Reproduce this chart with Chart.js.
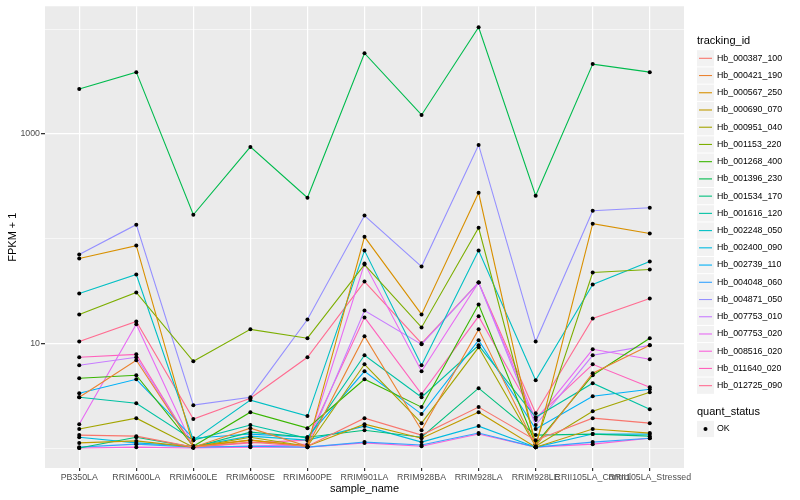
<!DOCTYPE html>
<html>
<head>
<meta charset="utf-8">
<script src="https://cdn.jsdelivr.net/npm/chart.js@4"></script>
<style>
    html, body { margin: 0; padding: 0; background: #ffffff; }
    #wrap { width: 800px; height: 500px; }
</style>
</head>
<body>
<div id="wrap"><canvas id="fpkmChart" width="800" height="500"></canvas></div>
<script>
const sampleNames = ["PB350LA", "RRIM600LA", "RRIM600LE", "RRIM600SE", "RRIM600PE", "RRIM901LA",
    "RRIM928BA", "RRIM928LA", "RRIM928LE", "RRII105LA_Control", "RRII105LA_Stressed"];

const trackingIds = ["Hb_000387_100", "Hb_000421_190", "Hb_000567_250", "Hb_000690_070", "Hb_000951_040",
    "Hb_001153_220", "Hb_001268_400", "Hb_001396_230", "Hb_001534_170", "Hb_001616_120",
    "Hb_002248_050", "Hb_002400_090", "Hb_002739_110", "Hb_004048_060", "Hb_004871_050",
    "Hb_007753_010", "Hb_007753_020", "Hb_008516_020", "Hb_011640_020", "Hb_012725_090"];

// FPKM + 1, one array per tracking_id, in sampleNames order
const hb_000387_100 = [1.33, 1.30, 1.02, 1.14, 1.04, 1.93, 1.33, 2.46, 1.19, 1.93, 1.73];
const hb_000421_190 = [3.06, 6.89, 1.02, 1.55, 1.04, 11.7, 1.48, 13.6, 1.04, 5.18, 9.57];
const hb_000567_250 = [64.5, 85.8, 1.04, 1.19, 1.04, 104, 18.9, 274, 1.02, 139, 112];
const hb_000690_070 = [1.12, 1.17, 1.02, 1.19, 1.04, 1.69, 1.24, 2.20, 1.02, 1.52, 1.39];
const hb_000951_040 = [1.52, 1.93, 1.02, 1.27, 1.04, 6.31, 1.73, 9.16, 1.04, 2.25, 3.41];
const hb_001153_220 = [18.9, 30.6, 6.74, 13.6, 11.2, 56.5, 14.2, 127, 1.09, 47.5, 50.7];
const hb_001268_400 = [4.64, 4.96, 1.04, 2.20, 1.55, 4.54, 2.46, 23.5, 1.09, 4.96, 11.2];
const hb_001396_230 = [2683, 3892, 169, 752, 246, 5905, 1517, 10450, 257, 4642, 3892];
const hb_001534_170 = [1.00, 1.27, 1.02, 1.42, 1.27, 1.48, 1.27, 3.73, 1.33, 1.36, 1.30];
const hb_001616_120 = [3.06, 2.68, 1.19, 1.66, 1.24, 7.69, 3.06, 9.57, 1.97, 4.16, 2.35];
const hb_002248_050 = [29.9, 45.4, 1.19, 2.87, 2.02, 76.9, 6.17, 76.9, 4.44, 36.5, 60.4];
const hb_002400_090 = [1.27, 1.12, 1.04, 1.30, 1.19, 1.62, 1.14, 1.62, 1.02, 1.36, 1.36];
const hb_002739_110 = [3.34, 4.54, 1.24, 1.36, 1.27, 5.41, 2.11, 10.7, 1.52, 3.13, 3.65];
const hb_004048_060 = [1.02, 1.09, 1.02, 1.04, 1.02, 1.14, 1.07, 1.39, 1.02, 1.14, 1.24];
const hb_004871_050 = [70.4, 136, 2.57, 3.06, 16.9, 166, 54.1, 785, 10.4, 185, 197];
const hb_007753_010 = [6.17, 7.36, 1.02, 1.04, 1.07, 20.6, 9.78, 38.1, 1.66, 7.69, 9.57];
const hb_007753_020 = [1.69, 15.2, 1.02, 1.04, 1.09, 57.8, 5.41, 38.1, 1.85, 8.77, 7.04];
const hb_008516_020 = [1.00, 1.02, 1.00, 1.02, 1.02, 1.12, 1.04, 1.36, 1.02, 1.09, 1.24];
const hb_011640_020 = [7.36, 7.85, 1.02, 1.12, 1.19, 17.7, 3.27, 18.1, 1.93, 6.31, 3.81];
const hb_012725_090 = [10.4, 16.2, 1.89, 2.99, 7.36, 38.9, 10.0, 38.1, 2.15, 17.3, 26.8];

const seriesValues = [hb_000387_100, hb_000421_190, hb_000567_250, hb_000690_070, hb_000951_040,
    hb_001153_220, hb_001268_400, hb_001396_230, hb_001534_170, hb_001616_120,
    hb_002248_050, hb_002400_090, hb_002739_110, hb_004048_060, hb_004871_050,
    hb_007753_010, hb_007753_020, hb_008516_020, hb_011640_020, hb_012725_090];

const yBreaks = [1, 10, 100, 1000, 10000];
const yLabelled = [10, 1000];
const quantStatus = ["OK"];

// ggplot default hue palette, 20 levels
const hueColors = ["#F8766D", "#EA8331", "#D89000", "#C09B00", "#A3A500", "#7CAE00", "#39B600",
    "#00BB4E", "#00BF7D", "#00C1A3", "#00BFC4", "#00BAE0", "#00B0F6", "#35A2FF", "#9590FF",
    "#C77CFF", "#E76BF3", "#FA62DB", "#FF62BC", "#FF6C91"];

const FONT = "'Liberation Sans', Arial, sans-serif";

const panelBackground = {
    id: "panelBackground",
    beforeDraw(chart) {
        const { ctx, chartArea } = chart;
        ctx.save();
        ctx.fillStyle = "#EBEBEB";
        ctx.fillRect(chartArea.left, chartArea.top, chartArea.right - chartArea.left, chartArea.bottom - chartArea.top);
        ctx.restore();
    }
};

const ggLegend = {
    id: "ggLegend",
    afterDraw(chart) {
        const ctx = chart.ctx;
        const x0 = 697, keyW = 17, rowH = 17.23, firstRow = 58.3;
        ctx.save();
        ctx.textBaseline = "middle";
        ctx.fillStyle = "#000000";
        ctx.font = "11px " + FONT;
        ctx.fillText("tracking_id", x0, 40.5);

        trackingIds.forEach((id, i) => {
            const cy = firstRow + i * rowH;
            ctx.fillStyle = "#F2F2F2";
            ctx.fillRect(x0, cy - rowH / 2 + 0.5, keyW, rowH - 1);
            ctx.strokeStyle = hueColors[i];
            ctx.lineWidth = 1.1;
            ctx.beginPath();
            ctx.moveTo(x0 + 2, cy);
            ctx.lineTo(x0 + keyW - 2, cy);
            ctx.stroke();
            ctx.fillStyle = "#000000";
            ctx.font = "8.8px " + FONT;
            ctx.fillText(id, 717, cy);
        });

        ctx.font = "11px " + FONT;
        ctx.fillText("quant_status", x0, 412);
        quantStatus.forEach((s, i) => {
            const cy = 429 + i * rowH;
            ctx.fillStyle = "#F2F2F2";
            ctx.fillRect(x0, cy - rowH / 2 + 0.5, keyW, rowH - 1);
            ctx.fillStyle = "#000000";
            ctx.beginPath();
            ctx.arc(x0 + keyW / 2, cy, 2, 0, Math.PI * 2);
            ctx.fill();
            ctx.font = "8.8px " + FONT;
            ctx.fillText(s, 717, cy);
        });
        ctx.restore();
    }
};

function createChart(canvasId) {
    const canvas = document.getElementById(canvasId);
    if (!canvas) {
        console.error(`Canvas ${canvasId} not found`);
        return null;
    }
    const ctx = canvas.getContext("2d");

    const datasets = seriesValues.map((vals, i) => ({
        label: trackingIds[i],
        data: vals.map((v, j) => ({ x: j, y: v })),
        borderColor: hueColors[i],
        borderWidth: 1.1,
        pointRadius: 2,
        pointBackgroundColor: "#000000",
        pointBorderWidth: 0,
        tension: 0,
        fill: false,
    }));

    return new Chart(ctx, {
        type: "line",
        data: { datasets: datasets },
        plugins: [panelBackground, ggLegend],
        options: {
            responsive: false,
            animation: false,
            layout: { padding: { left: 0, right: 116, top: 5, bottom: 0 } },
            plugins: {
                legend: { display: false },
                tooltip: { enabled: false },
            },
            scales: {
                x: {
                    type: "linear",
                    bounds: "data",
                    min: -0.6,
                    max: sampleNames.length - 1 + 0.6,
                    afterBuildTicks: (scale) => {
                        scale.ticks = sampleNames.map((n, i) => ({ value: i }));
                    },
                    afterFit: (scale) => { scale.height = 32; },
                    border: { display: false },
                    grid: {
                        color: "#FFFFFF",
                        lineWidth: 1.2,
                        tickLength: 3,
                        tickColor: "#333333",
                    },
                    ticks: {
                        autoSkip: false,
                        maxRotation: 0,
                        padding: 1,
                        color: "#4D4D4D",
                        font: { family: FONT, size: 8.8 },
                        callback: (v) => sampleNames[v],
                    },
                    title: {
                        display: true,
                        text: "sample_name",
                        color: "#000000",
                        font: { family: FONT, size: 11 },
                        padding: { top: 0, bottom: 4 },
                    },
                },
                y: {
                    type: "logarithmic",
                    bounds: "data",
                    min: 0.645,
                    max: 16560,
                    afterBuildTicks: (scale) => {
                        scale.ticks = yBreaks.map((b) => ({ value: b, major: yLabelled.includes(b) }));
                    },
                    afterFit: (scale) => { scale.width = 45; },
                    border: { display: false },
                    grid: {
                        color: "#FFFFFF",
                        lineWidth: (c) => (c.tick && yLabelled.includes(c.tick.value) ? 1.3 : 0.6),
                        tickLength: 4,
                        tickColor: (c) => (c.tick && yLabelled.includes(c.tick.value) ? "#333333" : "rgba(0,0,0,0)"),
                    },
                    ticks: {
                        autoSkip: false,
                        padding: 1,
                        color: "#4D4D4D",
                        font: { family: FONT, size: 8.8 },
                        callback: (v) => (yLabelled.includes(v) ? String(v) : ""),
                    },
                    title: {
                        display: true,
                        text: "FPKM + 1",
                        color: "#000000",
                        font: { family: FONT, size: 11 },
                        padding: { top: 6, bottom: 0 },
                    },
                },
            },
        },
    });
}

createChart("fpkmChart");
</script>
</body>
</html>
